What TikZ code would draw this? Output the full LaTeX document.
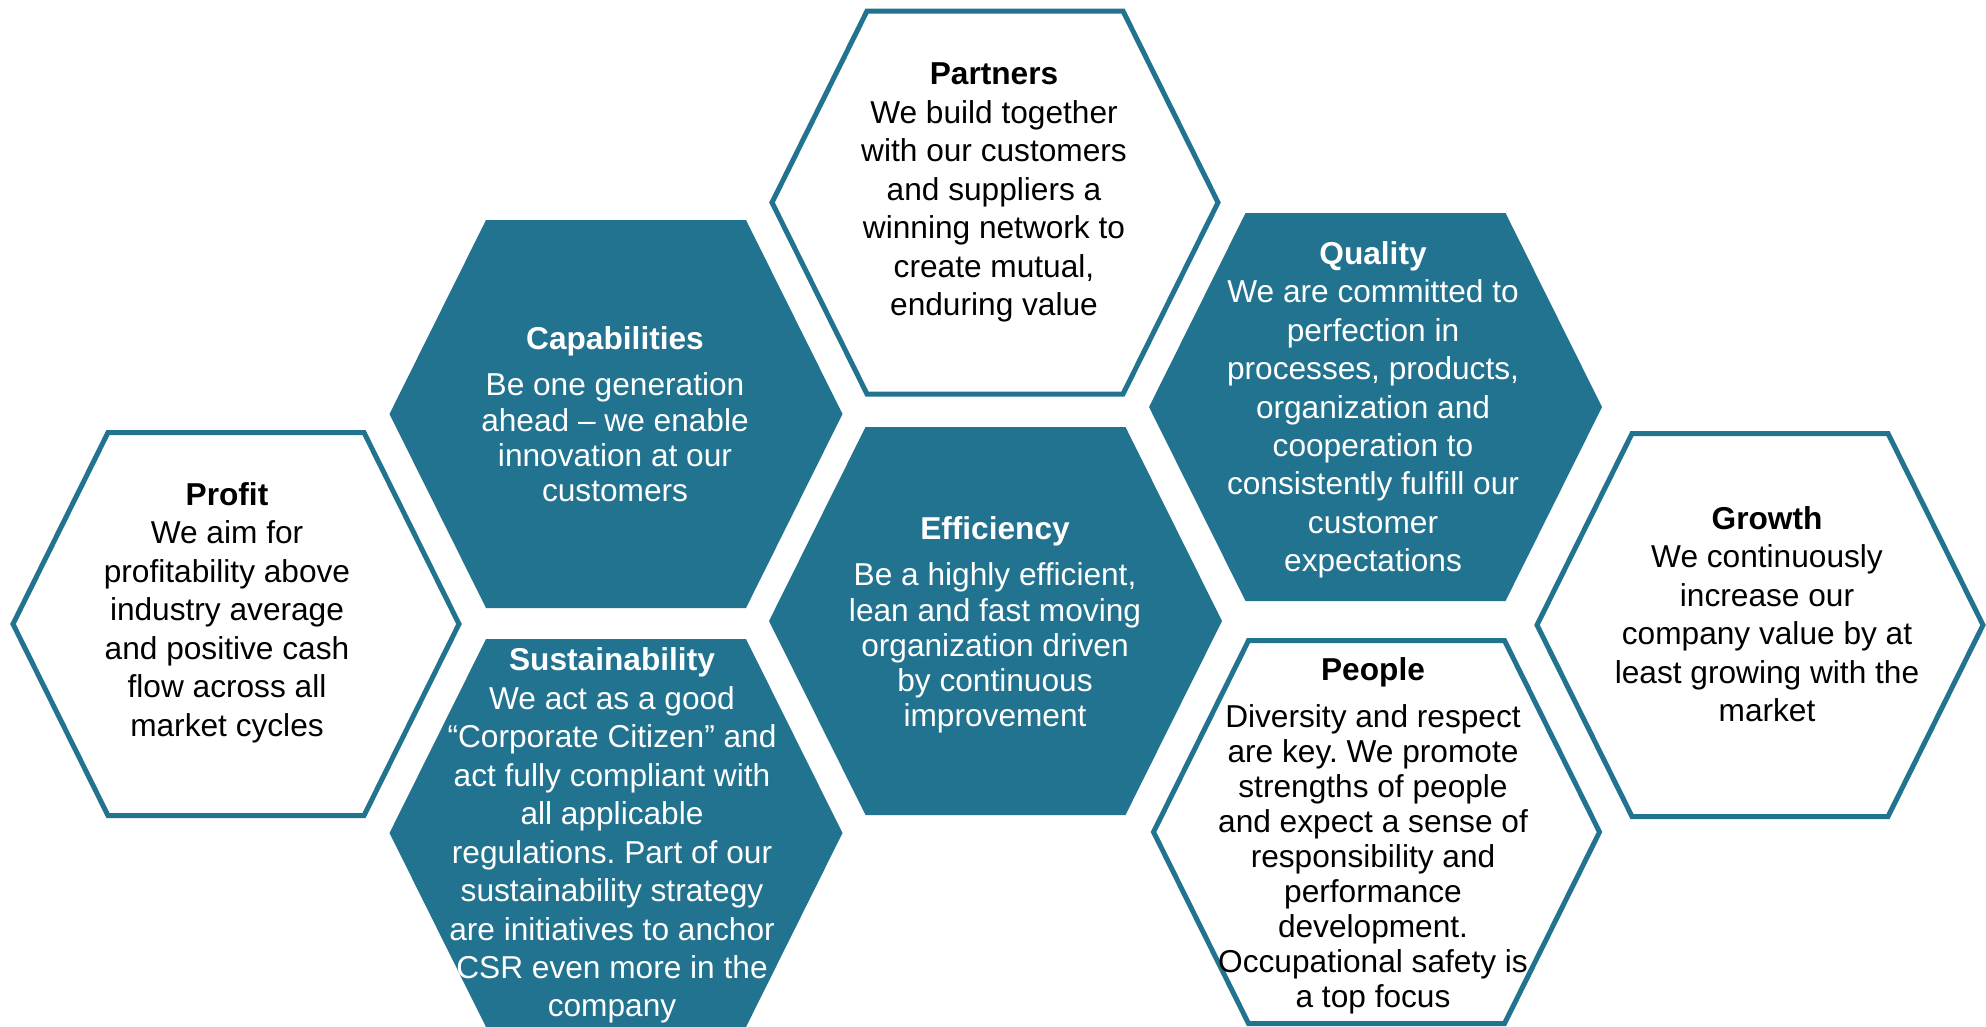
\documentclass[tikz,border=0pt]{standalone}
\usepackage{fontspec}
\setmainfont{Liberation Sans}
\frenchspacing
\definecolor{hexteal}{RGB}{34,115,143}
\tikzset{
	hexfilled/.style={fill=hexteal, draw=none},
	hexline/.style={draw=hexteal, line width=0.05cm, fill=white},
	valtext/.style={anchor=north, inner sep=0pt, align=center, font=\fontsize{9pt}{10.93pt}\selectfont},
	valtight/.style={anchor=north, inner sep=0pt, align=center, font=\fontsize{9pt}{9.96pt}\selectfont}
}
\begin{document}
\begin{tikzpicture}[x=0.01cm, y=-0.01cm]
				\useasboundingbox (0,0) rectangle (1986,1026);
				
				% filled hexagons
				\draw[hexfilled] (389.5,414) -- (486,220) -- (746,220) -- (842.5,414) -- (746,608) -- (486,608) -- cycle;
				\draw[hexfilled] (389.5,833) -- (486,639) -- (746,639) -- (842.5,833) -- (746,1027) -- (486,1027) -- cycle;
				\draw[hexfilled] (769,621) -- (865.5,427) -- (1125.5,427) -- (1222,621) -- (1125.5,815) -- (865.5,815) -- cycle;
				\draw[hexfilled] (1149,407) -- (1245.5,213) -- (1505.5,213) -- (1602,407) -- (1505.5,601) -- (1245.5,601) -- cycle;
				
				% outlined hexagons
				\draw[hexline] (772,202.5) -- (867,11) -- (1123,11) -- (1218,202.5) -- (1123,394) -- (867,394) -- cycle;
				\draw[hexline] (13,624) -- (108,432.5) -- (364,432.5) -- (459,624) -- (364,815.5) -- (108,815.5) -- cycle;
				\draw[hexline] (1153.5,832) -- (1248.5,640.5) -- (1504.5,640.5) -- (1599.5,832) -- (1504.5,1023.5) -- (1248.5,1023.5) -- cycle;
				\draw[hexline] (1537,625) -- (1632,433.5) -- (1888,433.5) -- (1983,625) -- (1888,816.5) -- (1632,816.5) -- cycle;
				
				\node[valtext] (partners) at (994,62.5) {\textbf{Partners}\\We build together\\with our customers\\and suppliers a\\winning network to\\create mutual,\\enduring value};
				\node[valtight, text=white] (capabilities) at (615,325.6) {\textbf{Capabilities}\\[0.117cm]Be one generation\\ahead – we enable\\innovation at our\\customers};
				\node[valtext, text=white] (quality) at (1373,240.6) {\textbf{Quality}\\We are committed to\\perfection in\\processes, products,\\organization and\\cooperation to\\consistently fulfill our\\customer\\expectations};
				\node[valtext] (profit) at (227,481.8) {\textbf{Profit}\\We aim for\\profitability above\\industry average\\and positive cash\\flow across all\\market cycles};
				\node[valtight, text=white] (efficiency) at (995,515.6) {\textbf{Efficiency}\\[0.117cm]Be a highly efficient,\\lean and fast moving\\organization driven\\by continuous\\improvement};
				\node[valtext] (growth) at (1767,505.6) {\textbf{Growth}\\We continuously\\increase our\\company value by at\\least growing with the\\market};
				\node[valtext, text=white] (sustainability) at (612,647.3) {\textbf{Sustainability}\\We act as a good\\“Corporate Citizen” and\\act fully compliant with\\all applicable\\regulations. Part of our\\sustainability strategy\\are initiatives to anchor\\CSR even more in the\\company};
				\node[valtight] (people) at (1373,657.3) {\textbf{People}\\[0.117cm]Diversity and respect\\are key. We promote\\strengths of people\\and expect a sense of\\responsibility and\\performance\\development.\\Occupational safety is\\a top focus};
\end{tikzpicture}
\end{document}
